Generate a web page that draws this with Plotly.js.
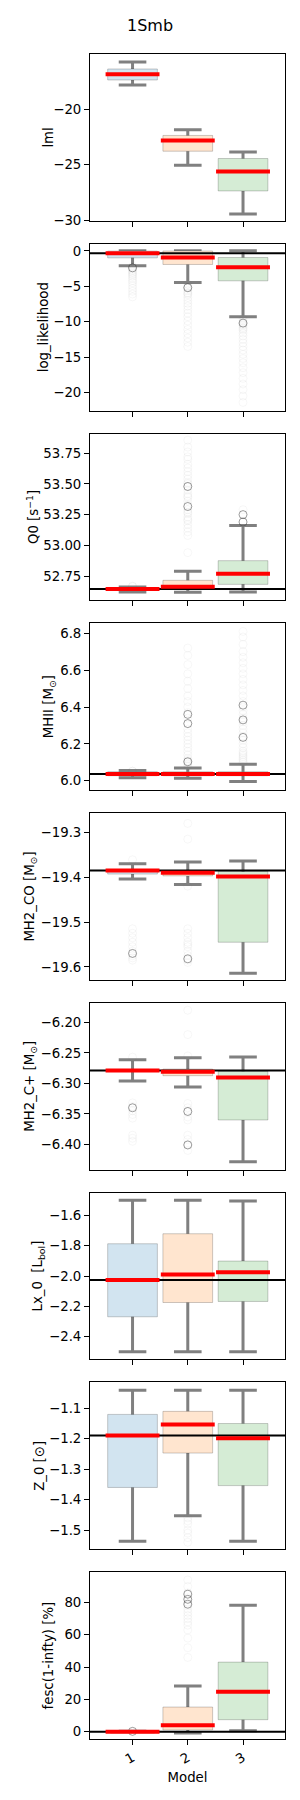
<!DOCTYPE html>
<html><head><meta charset="utf-8">
<script src="https://cdn.plot.ly/plotly-3.0.1.min.js"></script>
<style>body{margin:0;background:#fff}#chart{width:300px;height:1800px}</style>
</head><body><div id="chart"></div>
<script>
// ---------------- data ----------------
const MODELS = [1, 2, 3];
const X_TICK_LABELS = ['1', '2', '3'];

// lml
const LML_LOW  = [-17.83, -25.06, -29.46];
const LML_Q1   = [-17.38, -23.80, -27.38];
const LML_MED  = [-16.87, -22.84, -25.64];
const LML_Q3   = [-16.39, -22.38, -24.46];
const LML_HIGH = [-15.75, -21.87, -23.88];
const LML_TICKS = [-20, -25, -30];
const LML_TICKTEXT = ['−20', '−25', '−30'];

// log_likelihood
const LL_LOW  = [-2.11, -4.46, -9.30];
const LL_Q1   = [-0.99, -1.92, -4.23];
const LL_MED  = [-0.33, -0.94, -2.30];
const LL_Q3   = [-0.03, -0.02, -0.94];
const LL_HIGH = [0, 0, 0];
const LL_TRUE = -0.33;
const LL_FAINT_M = [1,1,1,1,1,1,1,1,1,1,1,1,1,1,1,1, 2,2,2,2,2,2,2,2,2,2,2,2,2,2,2,2,2,2,2,2,2,2, 3,3,3,3,3,3,3,3,3,3,3,3,3,3,3,3,3,3,3,3,3,3,3,3];
const LL_FAINT_V = [-2.2,-2.4,-2.6,-2.8,-3.0,-3.2,-3.4,-3.6,-3.9,-4.2,-4.5,-4.9,-5.3,-5.7,-6.1,-6.5,
                    -4.7,-5.0,-5.3,-5.6,-5.9,-6.2,-6.6,-7.0,-7.4,-7.8,-8.3,-8.8,-9.3,-9.9,-10.5,-11.1,-11.7,-12.3,-12.9,-13.5,-5.2,-6.0,
                    -9.6,-9.9,-10.2,-10.5,-10.8,-11.2,-11.6,-12.0,-12.5,-13.0,-13.5,-14.0,-14.6,-15.2,-15.8,-16.5,-17.2,-18.0,-18.8,-19.6,-20.5,-21.4,-10.4,-11.0];
const LL_DARK_M = [1, 2, 3];
const LL_DARK_V = [-2.4, -5.2, -10.2];
const LL_TICKS = [0, -5, -10, -15, -20];
const LL_TICKTEXT = ['0', '−5', '−10', '−15', '−20'];

// Q0
const Q0_LOW  = [52.620, 52.617, 52.620];
const Q0_Q1   = [52.633, 52.652, 52.682];
const Q0_MED  = [52.644, 52.663, 52.769];
const Q0_Q3   = [52.656, 52.715, 52.875];
const Q0_HIGH = [52.660, 52.788, 53.162];
const Q0_TRUE = 52.644;
const Q0_FAINT_M = [1,1, 2,2,2,2,2,2,2,2,2,2,2,2,2,2,2,2,2,2,2,2,2,2,2,2,2,2,2,2,2,2, 3,3,3];
const Q0_FAINT_V = [52.666, 52.666,
                    52.94,53.08,53.11,53.14,53.17,53.20,53.23,53.26,53.29,53.33,53.36,53.39,53.42,53.45,53.48,53.51,53.54,53.57,53.60,53.63,53.66,53.70,53.72,53.76,53.80,53.856,53.50,53.40,
                    53.21,53.27,53.29];
const Q0_DARK_M = [2, 2, 3, 3];
const Q0_DARK_V = [53.479, 53.316, 53.25, 53.19];
const Q0_TICKS = [52.75, 53.00, 53.25, 53.50, 53.75];
const Q0_TICKTEXT = ['52.75', '53.00', '53.25', '53.50', '53.75'];

// MHII
const MH_LOW  = [6.016, 6.013, 5.996];
const MH_Q1   = [6.027, 6.027, 6.027];
const MH_MED  = [6.036, 6.036, 6.036];
const MH_Q3   = [6.049, 6.049, 6.049];
const MH_HIGH = [6.056, 6.069, 6.090];
const MH_TRUE = 6.036;
const MH_FAINT_M = [1,1, 2,2,2,2,2,2,2,2,2,2,2,2,2,2,2,2,2,2,2,2,2,2,2,2,2, 3,3,3,3,3,3,3,3,3,3,3,3,3,3,3,3,3,3,3,3,3,3,3,3,3,3,3,3,3,3,3,3];
const MH_FAINT_V = [6.052, 6.052,
                    6.08,6.09,6.10,6.11,6.12,6.14,6.16,6.18,6.20,6.22,6.24,6.26,6.28,6.31,6.34,6.37,6.40,6.43,6.46,6.50,6.54,6.58,6.63,6.68,6.72,
                    6.10,6.11,6.12,6.13,6.14,6.16,6.18,6.20,6.22,6.24,6.26,6.28,6.30,6.32,6.34,6.36,6.38,6.40,6.43,6.46,6.49,6.52,6.55,6.58,6.61,6.64,6.67,6.70,6.74,6.78,6.81,6.15];
const MH_DARK_M = [2, 2, 2, 3, 3, 3];
const MH_DARK_V = [6.103, 6.36, 6.31, 6.41, 6.33, 6.235];
const MH_TICKS = [6.0, 6.2, 6.4, 6.6, 6.8];
const MH_TICKTEXT = ['6.0', '6.2', '6.4', '6.6', '6.8'];

// MH2_CO
const CO_LOW  = [-19.404, -19.416, -19.614];
const CO_Q1   = [-19.393, -19.397, -19.545];
const CO_MED  = [-19.385, -19.390, -19.3985];
const CO_Q3   = [-19.383, -19.385, -19.387];
const CO_HIGH = [-19.370, -19.366, -19.364];
const CO_TRUE = -19.385;
const CO_FAINT_M = [1,1,1,1,1,1,1,1,1,1, 2,2,2,2,2,2,2,2,2,2,2,2,2];
const CO_FAINT_V = [-19.361,-19.515,-19.525,-19.535,-19.545,-19.555,-19.565,-19.575,-19.58,-19.585,
                    -19.28,-19.315,-19.42,-19.515,-19.525,-19.535,-19.545,-19.555,-19.565,-19.575,-19.585,-19.59,-19.55];
const CO_DARK_M = [1, 2];
const CO_DARK_V = [-19.570, -19.582];
const CO_TICKS = [-19.3, -19.4, -19.5, -19.6];
const CO_TICKTEXT = ['−19.3', '−19.4', '−19.5', '−19.6'];

// MH2_C+
const CP_LOW  = [-6.2962, -6.306, -6.4284];
const CP_Q1   = [-6.2805, -6.2874, -6.360];
const CP_MED  = [-6.2787, -6.2810, -6.2902];
const CP_Q3   = [-6.2775, -6.2765, -6.2803];
const CP_HIGH = [-6.2612, -6.2580, -6.2568];
const CP_TRUE = -6.2787;
const CP_FAINT_M = [1,1,1,1,1,1,1,1,1, 2,2,2,2,2,2,2,2,2,2,2,2];
const CP_FAINT_V = [-6.257,-6.332,-6.338,-6.345,-6.351,-6.357,-6.385,-6.39,-6.395,
                    -6.18,-6.22,-6.255,-6.333,-6.34,-6.347,-6.355,-6.36,-6.385,-6.392,-6.40,-6.41];
const CP_DARK_M = [1, 2, 2];
const CP_DARK_V = [-6.340, -6.346, -6.401];
const CP_TICKS = [-6.20, -6.25, -6.30, -6.35, -6.40];
const CP_TICKTEXT = ['−6.20', '−6.25', '−6.30', '−6.35', '−6.40'];

// Lx_0
const LX_LOW  = [-2.499, -2.499, -2.499];
const LX_Q1   = [-2.268, -2.174, -2.167];
const LX_MED  = [-2.026, -1.989, -1.974];
const LX_Q3   = [-1.787, -1.721, -1.901];
const LX_HIGH = [-1.500, -1.500, -1.505];
const LX_TRUE = -2.026;
const LX_TICKS = [-1.6, -1.8, -2.0, -2.2, -2.4];
const LX_TICKTEXT = ['−1.6', '−1.8', '−2.0', '−2.2', '−2.4'];

// Z_0
const Z_LOW  = [-1.537, -1.453, -1.537];
const Z_Q1   = [-1.360, -1.247, -1.354];
const Z_MED  = [-1.189, -1.153, -1.198];
const Z_Q3   = [-1.120, -1.110, -1.150];
const Z_HIGH = [-1.041, -1.041, -1.041];
const Z_TRUE = -1.189;
const Z_FAINT_M = [2, 2, 2, 2, 2, 2, 2];
const Z_FAINT_V = [-1.46, -1.47, -1.48, -1.50, -1.51, -1.525, -1.54];
const Z_TICKS = [-1.1, -1.2, -1.3, -1.4, -1.5];
const Z_TICKTEXT = ['−1.1', '−1.2', '−1.3', '−1.4', '−1.5'];

// fesc(1-infty)
const FE_LOW  = [0, -0.82, 0.62];
const FE_Q1   = [0, 1.03, 7.42];
const FE_MED  = [0, 3.92, 24.74];
const FE_Q3   = [0.2, 15.26, 43.1];
const FE_HIGH = [0.3, 28.25, 78.35];
const FE_TRUE = 0;
const FE_FAINT_M = [2,2,2,2,2,2,2,2,2,2,2,2,2,2,2,2];
const FE_FAINT_V = [46, 52, 58, 63, 66, 68, 70, 72, 74, 76, 78, 80, 83, 86, 90, 94];
const FE_DARK_M = [1, 2, 2, 2];
const FE_DARK_V = [0.2, 85.2, 82, 79];
const FE_TICKS = [0, 20, 40, 60, 80];
const FE_TICKTEXT = ['0', '20', '40', '60', '80'];

// ---------------- layout / style ----------------
const PANELS = [
  {title: 'lml', low: LML_LOW, q1: LML_Q1, med: LML_MED, q3: LML_Q3, high: LML_HIGH, truth: null,
   fm: [], fv: [], dm: [], dv: [], range: [-30.07, -15.04], tv: LML_TICKS, tt: LML_TICKTEXT},
  {title: 'log_likelihood', low: LL_LOW, q1: LL_Q1, med: LL_MED, q3: LL_Q3, high: LL_HIGH, truth: LL_TRUE,
   fm: LL_FAINT_M, fv: LL_FAINT_V, dm: LL_DARK_M, dv: LL_DARK_V, range: [-22.55, 1.0], tv: LL_TICKS, tt: LL_TICKTEXT},
  {title: 'Q0 [s<sup>−1</sup>]', low: Q0_LOW, q1: Q0_Q1, med: Q0_MED, q3: Q0_Q3, high: Q0_HIGH, truth: Q0_TRUE,
   fm: Q0_FAINT_M, fv: Q0_FAINT_V, dm: Q0_DARK_M, dv: Q0_DARK_V, range: [52.552, 53.91], tv: Q0_TICKS, tt: Q0_TICKTEXT},
  {title: 'MHII [M<sub>⊙</sub>]', low: MH_LOW, q1: MH_Q1, med: MH_MED, q3: MH_Q3, high: MH_HIGH, truth: MH_TRUE,
   fm: MH_FAINT_M, fv: MH_FAINT_V, dm: MH_DARK_M, dv: MH_DARK_V, range: [5.949, 6.854], tv: MH_TICKS, tt: MH_TICKTEXT},
  {title: 'MH2_CO [M<sub>⊙</sub>]', low: CO_LOW, q1: CO_Q1, med: CO_MED, q3: CO_Q3, high: CO_HIGH, truth: CO_TRUE,
   fm: CO_FAINT_M, fv: CO_FAINT_V, dm: CO_DARK_M, dv: CO_DARK_V, range: [-19.629, -19.257], tv: CO_TICKS, tt: CO_TICKTEXT},
  {title: 'MH2_C+ [M<sub>⊙</sub>]', low: CP_LOW, q1: CP_Q1, med: CP_MED, q3: CP_Q3, high: CP_HIGH, truth: CP_TRUE,
   fm: CP_FAINT_M, fv: CP_FAINT_V, dm: CP_DARK_M, dv: CP_DARK_V, range: [-6.4415, -6.168], tv: CP_TICKS, tt: CP_TICKTEXT},
  {title: 'Lx_0  [L<sub>bol</sub>]', low: LX_LOW, q1: LX_Q1, med: LX_MED, q3: LX_Q3, high: LX_HIGH, truth: LX_TRUE,
   fm: [], fv: [], dm: [], dv: [], range: [-2.549, -1.4505], tv: LX_TICKS, tt: LX_TICKTEXT},
  {title: 'Z_0 [⊙]', low: Z_LOW, q1: Z_Q1, med: Z_MED, q3: Z_Q3, high: Z_HIGH, truth: Z_TRUE,
   fm: Z_FAINT_M, fv: Z_FAINT_V, dm: [], dv: [], range: [-1.563, -1.015], tv: Z_TICKS, tt: Z_TICKTEXT},
  {title: 'fesc(1-infty) [%]', low: FE_LOW, q1: FE_Q1, med: FE_MED, q3: FE_Q3, high: FE_HIGH, truth: FE_TRUE,
   fm: FE_FAINT_M, fv: FE_FAINT_V, dm: FE_DARK_M, dv: FE_DARK_V, range: [-4.54, 98.8], tv: FE_TICKS, tt: FE_TICKTEXT}
];

const FILLS = ['#d2e4f0', '#ffe5cf', '#d5ecd5'];
const EDGE = 'rgba(0,0,0,0.2)';
const X_RANGE = [0.23, 3.76];
const W = 300, H = 1800, MT = 54, MB = 60.8, ML = 90, MR = 15;
const PLOT_H = H - MT - MB;
const STEP = 189.8, PH = 166.8;
const FONT = 'DejaVu Sans, Liberation Sans, sans-serif';

const traces = [];
const layout = {
  width: W, height: H, margin: {l: ML, r: MR, t: MT, b: MB},
  paper_bgcolor: '#fff', plot_bgcolor: '#fff',
  font: {family: FONT, size: 13.3, color: '#000'},
  showlegend: false, boxmode: 'overlay',
  title: {text: '1Smb', font: {size: 16, family: FONT}, x: 0.5, xref: 'container', xanchor: 'center',
          y: 1 - 25 / H, yref: 'container', yanchor: 'middle'}
};

PANELS.forEach((p, i) => {
  const n = i + 1;
  const xa = 'x' + (n === 1 ? '' : n), ya = 'y' + (n === 1 ? '' : n);
  const topPx = i * STEP;
  const d1 = (PLOT_H - topPx) / PLOT_H, d0 = (PLOT_H - topPx - PH) / PLOT_H;

  // whiskers + caps
  traces.push({type: 'box', xaxis: xa, yaxis: ya, x: MODELS, q1: p.med, median: p.med, q3: p.med,
    lowerfence: p.low, upperfence: p.high, width: 0.8, whiskerwidth: 0.625,
    line: {color: '#808080', width: 3}, fillcolor: 'rgba(0,0,0,0)', hoverinfo: 'skip'});
  // boxes
  MODELS.forEach((m, k) => {
    traces.push({type: 'box', xaxis: xa, yaxis: ya, x: [m], q1: [p.q1[k]], median: [p.med[k]], q3: [p.q3[k]],
      lowerfence: [p.q1[k]], upperfence: [p.q3[k]], width: 0.9, whiskerwidth: 0,
      line: {color: EDGE, width: 1}, fillcolor: FILLS[k], hoverinfo: 'skip'});
  });
  // fliers
  if (p.fv.length) traces.push({type: 'scatter', mode: 'markers', xaxis: xa, yaxis: ya, x: p.fm, y: p.fv,
    marker: {symbol: 'circle-open', size: 8, color: 'rgba(90,90,90,0.05)', line: {width: 1}}, hoverinfo: 'skip'});
  if (p.dv.length) traces.push({type: 'scatter', mode: 'markers', xaxis: xa, yaxis: ya, x: p.dm, y: p.dv,
    marker: {symbol: 'circle-open', size: 8, color: 'rgba(60,60,60,0.5)', line: {width: 1}}, hoverinfo: 'skip'});
  // true value
  if (p.truth !== null) traces.push({type: 'scatter', mode: 'lines', xaxis: xa, yaxis: ya,
    x: X_RANGE, y: [p.truth, p.truth], line: {color: '#000', width: 2}, hoverinfo: 'skip'});
  // medians
  traces.push({type: 'scatter', mode: 'markers', xaxis: xa, yaxis: ya, x: MODELS, y: p.med,
    marker: {symbol: 'line-ew', size: 38.5, color: 'red', line: {color: 'red', width: 4}}, hoverinfo: 'skip'});

  const last = n === PANELS.length;
  const xax = {
    domain: [0, 1], anchor: ya, range: X_RANGE, tickvals: MODELS, ticktext: X_TICK_LABELS,
    showticklabels: last, tickangle: -30, ticks: 'outside', ticklen: 5, tickwidth: 1, tickcolor: '#000',
    showline: true, mirror: true, linecolor: '#000', linewidth: 1, showgrid: false, zeroline: false
  };
  if (last) xax.title = {text: 'Model', font: {size: 13.3}, standoff: 6};
  layout['xaxis' + (n === 1 ? '' : n)] = xax;
  layout['yaxis' + (n === 1 ? '' : n)] = {
    domain: [d0, d1], anchor: xa, range: p.range, tickvals: p.tv, ticktext: p.tt,
    ticks: 'outside', ticklen: 5, tickwidth: 1, tickcolor: '#000',
    showline: true, mirror: true, linecolor: '#000', linewidth: 1, showgrid: false, zeroline: false,
    title: {text: p.title, font: {size: 13.3}}
  };
});

Plotly.newPlot('chart', traces, layout, {staticPlot: true, displayModeBar: false});
</script></body></html>
